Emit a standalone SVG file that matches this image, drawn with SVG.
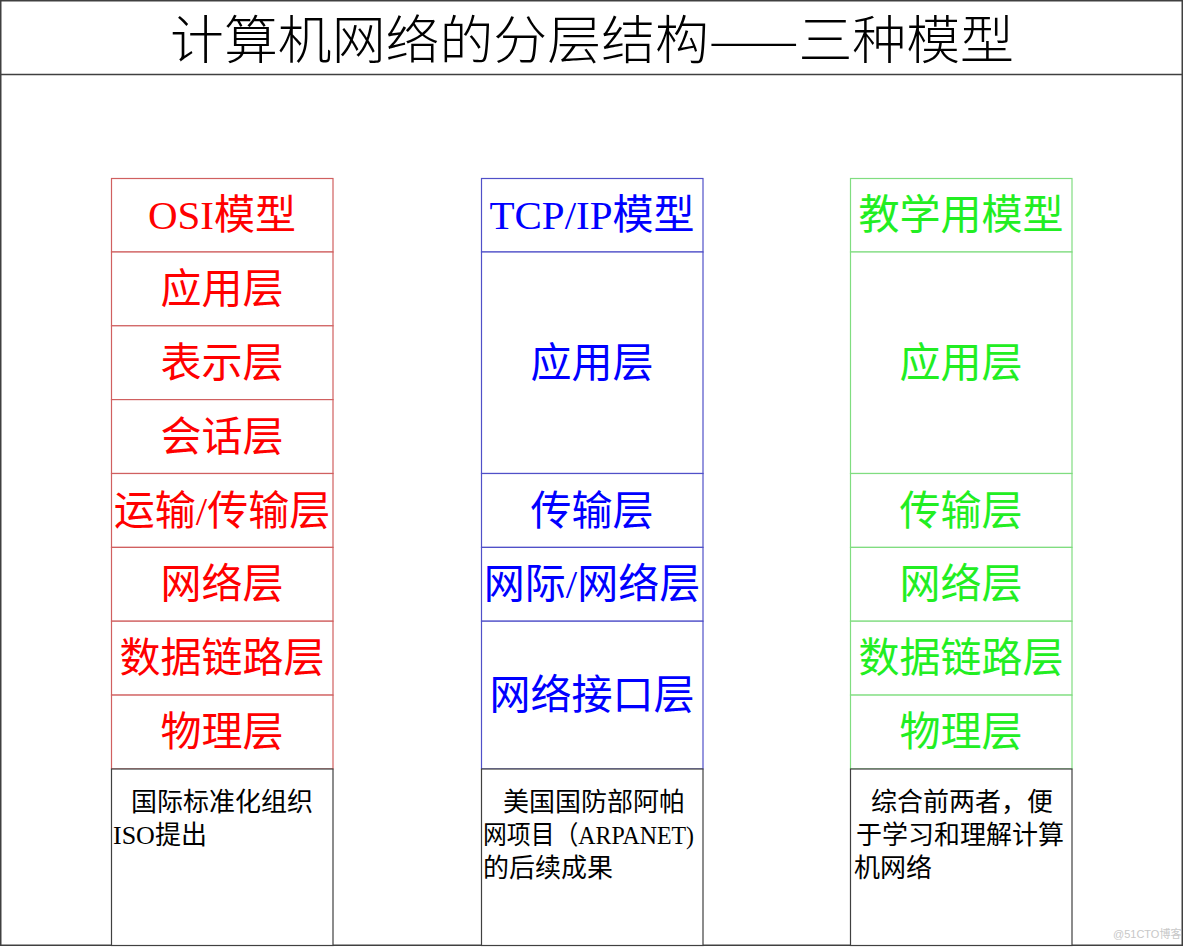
<svg xmlns="http://www.w3.org/2000/svg" width="1184" height="947" viewBox="0 0 1184 947">
<style>
text{font-family:"Liberation Serif","Noto Sans CJK SC",serif;}
.title{font-size:52px;fill:#000;text-anchor:middle;font-family:"Noto Sans CJK SC","Liberation Sans",sans-serif;font-weight:300;}
.lbl{font-size:41px;text-anchor:middle;}
.desc{font-size:26px;fill:#000;}
.r{fill:#ff0000;}
.b{fill:#0000ff;}
.g{fill:#22ee22;}
.rb{fill:#fff;stroke:#d06060;stroke-width:1.2;}
.bb{fill:#fff;stroke:#5050c8;stroke-width:1.2;}
.gb{fill:#fff;stroke:#80dd80;stroke-width:1.2;}
.db{fill:#fff;stroke:#404040;stroke-width:1.2;}
.frame{fill:none;stroke:#404040;stroke-width:1.5;}
.wm{font-family:"Liberation Sans","Noto Sans CJK SC",sans-serif;font-size:11px;fill:#c8c8c8;}
</style>
<rect x="0" y="0" width="1184" height="947" fill="#fff"/>
<g id="frame">
<rect class="frame" x="0.75" y="0.75" width="1181.5" height="944.5"/>
<line class="frame" x1="0" y1="74.5" x2="1183" y2="74.5"/>
<text class="title" x="592" y="59" textLength="844" lengthAdjust="spacingAndGlyphs">计算机网络的分层结构——三种模型</text>
</g>
<g id="connectors"></g>
<g id="osi">
<rect class="rb" x="111.5" y="178.5" width="221.5" height="73.5"/>
<text class="lbl r" x="222" y="229">OSI模型</text>
<rect class="rb" x="111.5" y="252" width="221.5" height="73.8"/>
<text class="lbl r" x="222" y="303">应用层</text>
<rect class="rb" x="111.5" y="325.8" width="221.5" height="73.8"/>
<text class="lbl r" x="222" y="377">表示层</text>
<rect class="rb" x="111.5" y="399.6" width="221.5" height="73.9"/>
<text class="lbl r" x="222" y="451">会话层</text>
<rect class="rb" x="111.5" y="473.5" width="221.5" height="73.9"/>
<text class="lbl r" x="222" y="525">运输/传输层</text>
<rect class="rb" x="111.5" y="547.4" width="221.5" height="73.8"/>
<text class="lbl r" x="222" y="598">网络层</text>
<rect class="rb" x="111.5" y="621.2" width="221.5" height="73.9"/>
<text class="lbl r" x="222" y="672">数据链路层</text>
<rect class="rb" x="111.5" y="695.1" width="221.5" height="73.9"/>
<text class="lbl r" x="222" y="746">物理层</text>
</g>
<g id="osi-desc">
<rect class="db" x="111.5" y="769" width="221.5" height="176.5"/>
<text class="desc" x="131" y="811">国际标准化组织</text>
<text class="desc" x="113" y="844">ISO提出</text>
</g>
<g id="tcpip">
<rect class="bb" x="481.5" y="178.5" width="221.5" height="73.5"/>
<text class="lbl b" x="592" y="229">TCP/IP模型</text>
<rect class="bb" x="481.5" y="252" width="221.5" height="221.5"/>
<text class="lbl b" x="592" y="377">应用层</text>
<rect class="bb" x="481.5" y="473.5" width="221.5" height="73.9"/>
<text class="lbl b" x="592" y="525">传输层</text>
<rect class="bb" x="481.5" y="547.4" width="221.5" height="73.8"/>
<text class="lbl b" x="592" y="598">网际/网络层</text>
<rect class="bb" x="481.5" y="621.2" width="221.5" height="147.8"/>
<text class="lbl b" x="592" y="709">网络接口层</text>
</g>
<g id="tcpip-desc">
<rect class="db" x="481.5" y="769" width="221.5" height="176.5"/>
<text class="desc" x="503" y="811">美国国防部阿帕</text>
<text class="desc" x="483" y="844" textLength="211" lengthAdjust="spacingAndGlyphs">网项目（ARPANET)</text>
<text class="desc" x="483" y="877">的后续成果</text>
</g>
<g id="teaching">
<rect class="gb" x="850.5" y="178.5" width="221.5" height="73.5"/>
<text class="lbl g" x="961" y="229">教学用模型</text>
<rect class="gb" x="850.5" y="252" width="221.5" height="221.5"/>
<text class="lbl g" x="961" y="377">应用层</text>
<rect class="gb" x="850.5" y="473.5" width="221.5" height="73.9"/>
<text class="lbl g" x="961" y="525">传输层</text>
<rect class="gb" x="850.5" y="547.4" width="221.5" height="73.8"/>
<text class="lbl g" x="961" y="598">网络层</text>
<rect class="gb" x="850.5" y="621.2" width="221.5" height="73.9"/>
<text class="lbl g" x="961" y="672">数据链路层</text>
<rect class="gb" x="850.5" y="695.1" width="221.5" height="73.9"/>
<text class="lbl g" x="961" y="746">物理层</text>
</g>
<g id="teaching-desc">
<rect class="db" x="850.5" y="769" width="221.5" height="176.5"/>
<text class="desc" x="871" y="811">综合前两者，便</text>
<text class="desc" x="856" y="844">于学习和理解计算</text>
<text class="desc" x="854" y="877">机网络</text>
</g>
<text class="wm" x="1113" y="938">@51CTO博客</text>
</svg>
